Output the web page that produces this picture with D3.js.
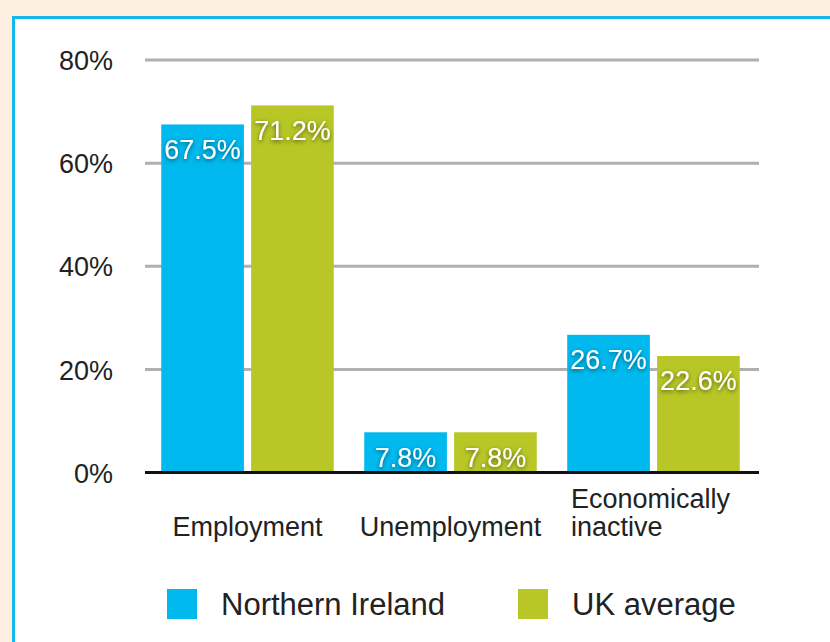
<!DOCTYPE html>
<html>
<head>
<meta charset="utf-8">
<script src="https://cdn.jsdelivr.net/npm/d3@7/dist/d3.min.js"></script>
<style>
  html, body { margin: 0; padding: 0; background: #fdf0e0; }
  svg { display: block; font-family: "Liberation Sans", Arial, Helvetica, sans-serif; }
</style>
</head>
<body>
<svg id="chart" width="830" height="642"></svg>
<script>
// Labour market rates, Northern Ireland vs UK average
const categories = ["Employment", "Unemployment", "Economically inactive"];
const categoryLines = [["Employment"], ["Unemployment"], ["Economically", "inactive"]];
const seriesNames = ["Northern Ireland", "UK average"];
const northernIreland = [67.5, 7.8, 26.7];
const ukAverage = [71.2, 7.8, 22.6];
const yTicks = [0, 20, 40, 60, 80];
const seriesColors = ["#00b9ee", "#b8c726"];

const seriesValues = [northernIreland, ukAverage];

const svg = d3.select("#chart");
const W = 830, H = 642;

// Panel: beige backdrop, white card with cyan top/left edge
svg.append("rect").attr("width", W).attr("height", H).attr("fill", "#fdf0e0");
svg.append("rect").attr("x", 13.5).attr("y", 17.5).attr("width", W).attr("height", H)
  .attr("fill", "#ffffff").attr("stroke", "#12b8ea").attr("stroke-width", 3);

// Soft shadow behind the value labels
const defs = svg.append("defs");
const f = defs.append("filter").attr("id", "lblShadow")
  .attr("x", "-30%").attr("y", "-40%").attr("width", "160%").attr("height", "190%");
f.append("feDropShadow").attr("dx", 0).attr("dy", 1.5).attr("stdDeviation", 2)
  .attr("flood-color", "#000").attr("flood-opacity", 0.55);

const plotLeft = 145, plotRight = 759;
const y = d3.scaleLinear().domain([0, 80]).range([472.5, 60]);

const x0 = d3.scaleBand().domain(categories).range([144, 757])
  .paddingInner(0.15).paddingOuter(0.085);
const x1 = d3.scaleBand().domain(seriesNames).range([0, x0.bandwidth()])
  .paddingInner(0.08).paddingOuter(0);

// Gridlines
svg.append("g").selectAll("line").data(yTicks.filter(t => t > 0)).join("line")
  .attr("x1", plotLeft).attr("x2", plotRight)
  .attr("y1", d => y(d)).attr("y2", d => y(d))
  .attr("stroke", "#b0b0b3").attr("stroke-width", 3);

// Y axis labels
const yAxis = d3.axisLeft(y).tickValues(yTicks).tickFormat(d => d + "%").tickSize(0).tickPadding(0);
const yg = svg.append("g").attr("transform", "translate(113,0)").call(yAxis);
yg.select(".domain").remove();
yg.selectAll("text").attr("font-size", 27).attr("fill", "#222")
  .attr("font-family", "Liberation Sans, Arial, sans-serif").attr("dy", "0.36em");

// Bars
const groups = svg.append("g").selectAll("g").data(categories).join("g")
  .attr("transform", d => `translate(${x0(d)},0)`);

const cells = groups.selectAll("g.cell")
  .data((c, i) => seriesNames.map((s, j) => ({ cat: c, series: s, si: j, value: seriesValues[j][i] })))
  .join("g").attr("class", "cell");

cells.append("rect")
  .attr("x", d => x1(d.series)).attr("width", x1.bandwidth())
  .attr("y", d => y(d.value)).attr("height", d => y(0) - y(d.value))
  .attr("fill", d => seriesColors[d.si]);

// Value labels sit inside the top of each bar
cells.append("text")
  .attr("x", d => x1(d.series) + x1.bandwidth() / 2)
  .attr("y", d => y(d.value) + 34.5)
  .attr("text-anchor", "middle")
  .attr("font-size", 27)
  .attr("fill", "#ffffff")
  .attr("filter", "url(#lblShadow)")
  .text(d => d.value.toFixed(1) + "%");

// Baseline
svg.append("line").attr("x1", plotLeft).attr("x2", plotRight)
  .attr("y1", y(0)).attr("y2", y(0))
  .attr("stroke", "#111").attr("stroke-width", 3);

// Category labels (multi-line block centred under its group)
const catG = svg.append("g");
categories.forEach((c, i) => {
  const lines = categoryLines[i];
  const cx = x0(c) + x0.bandwidth() / 2;
  const t = catG.append("text").attr("font-size", 27).attr("fill", "#222");
  lines.forEach((ln, k) => {
    t.append("tspan").attr("y", 536 - (lines.length - 1 - k) * 28).text(ln);
  });
  let maxW = 0;
  t.selectAll("tspan").each(function () { maxW = Math.max(maxW, this.getComputedTextLength()); });
  t.selectAll("tspan").attr("x", cx - maxW / 2 - (lines.length > 1 ? 3 : 0));
});

// Legend
const legendX = [167, 518];
const lg = svg.append("g").selectAll("g").data(seriesNames).join("g")
  .attr("transform", (d, i) => `translate(${legendX[i]},589)`);
lg.append("rect").attr("width", 30).attr("height", 30).attr("fill", (d, i) => seriesColors[i]);
lg.append("text").attr("x", 54).attr("y", 26).attr("font-size", 31).attr("fill", "#222").text(d => d);
</script>
</body>
</html>
